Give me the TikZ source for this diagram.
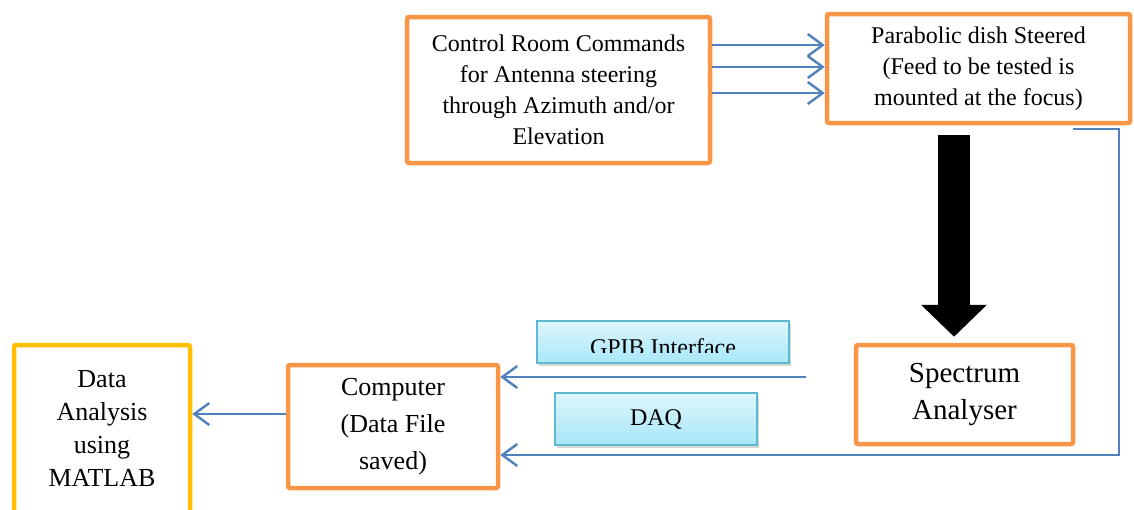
\documentclass[tikz,border=0pt]{standalone}
\usepackage{fontspec}
\setmainfont{Liberation Serif}
\usetikzlibrary{arrows.meta,shadows}
\definecolor{boxorange}{HTML}{F79646}
\definecolor{boxgold}{HTML}{FFC000}
\definecolor{linkblue}{HTML}{4F81BD}
\definecolor{tagtop}{HTML}{DDF6FC}
\definecolor{tagbottom}{HTML}{A8E7F8}
\definecolor{tagedge}{HTML}{5DB8D0}
\tikzset{
  blockbox/.style={draw=boxorange, line width=4.5pt, rounded corners=2pt,
    inner sep=0pt, align=center},
  resultbox/.style={blockbox, draw=boxgold},
  link/.style={draw=linkblue, line width=2.4pt,
    -{Straight Barb[length=15pt,width=22pt,line width=2.4pt]}},
  tagbox/.style={draw=tagedge, line width=1.5pt, top color=tagtop,
    bottom color=tagbottom, inner sep=0pt,
    drop shadow={shadow xshift=1.5pt, shadow yshift=-3pt, opacity=0.3}},
  bigarrow/.style={line width=32pt, draw=black,
    -{Triangle[length=32pt,width=64pt]}},
  txta/.style={font=\fontsize{24}{31}\selectfont},
  txtb/.style={font=\fontsize{26}{33}\selectfont},
  txtc/.style={font=\fontsize{26}{37}\selectfont},
  txtd/.style={font=\fontsize{29}{37}\selectfont},
}
\begin{document}
\begin{tikzpicture}[x=1pt,y=-1pt]
\clip (0,0) rectangle (1134,509);
\fill[white] (0,0) rectangle (1134,509);

% main blocks
\node[blockbox, txta, minimum width=303pt, minimum height=146pt]
  (ctrl) at (558.5,90) {Control Room Commands\\for Antenna steering\\through Azimuth and/or\\Elevation};
\node[blockbox, txta, minimum width=303pt, minimum height=109pt]
  (dish) at (978.5,68.5) {Parabolic dish Steered\\(Feed to be tested is\\mounted at the focus)};
\node[blockbox, txtd, minimum width=217pt, minimum height=99pt]
  (spec) at (964.5,394.5) {Spectrum\\Analyser};
\node[blockbox, txtc, minimum width=210pt, minimum height=123pt]
  (comp) at (393,426.5) {Computer\\(Data File\\saved)};
\node[resultbox, txtb, minimum width=176pt, minimum height=168pt]
  (data) at (102,429) {Data\\Analysis\\using\\MATLAB};

% interface tags
\node[tagbox, minimum width=252pt, minimum height=42pt] (gpib) at (663,342) {};
\begin{scope}
  \clip (537,320) rectangle (789,352.7);
  \node[txta, anchor=base, inner sep=0pt] (gpibtext) at (663,355) {GPIB Interface};
\end{scope}
\node[tagbox, txta, minimum width=202pt, minimum height=52pt] (daq) at (656,419) {DAQ};

% commands to the dish
\foreach \yy in {45,67,93}
  \draw[link] (ctrl.east |- 0,\yy) -- (dish.west |- 0,\yy);

% dish output into the analyser
\coordinate (axis) at (954,0);
\draw[bigarrow, shorten <=10pt, shorten >=6pt] (dish.south -| axis) -- (spec.north -| axis);

% GPIB link
\coordinate (gpibsrc) at (806,377);
\draw[link] (gpibsrc) -- (comp.east |- gpibsrc);

% DAQ link running round the analyser
\coordinate (daqsrc) at ([xshift=-59pt,yshift=-4pt]dish.south east);
\coordinate (daqturn) at (1119,455);
\draw[link] (daqsrc) -| (daqturn) -- (comp.east |- daqturn);

% computer to analysis
\draw[link] (comp.west |- 0,414) -- (data.east |- 0,414);
\end{tikzpicture}
\end{document}
